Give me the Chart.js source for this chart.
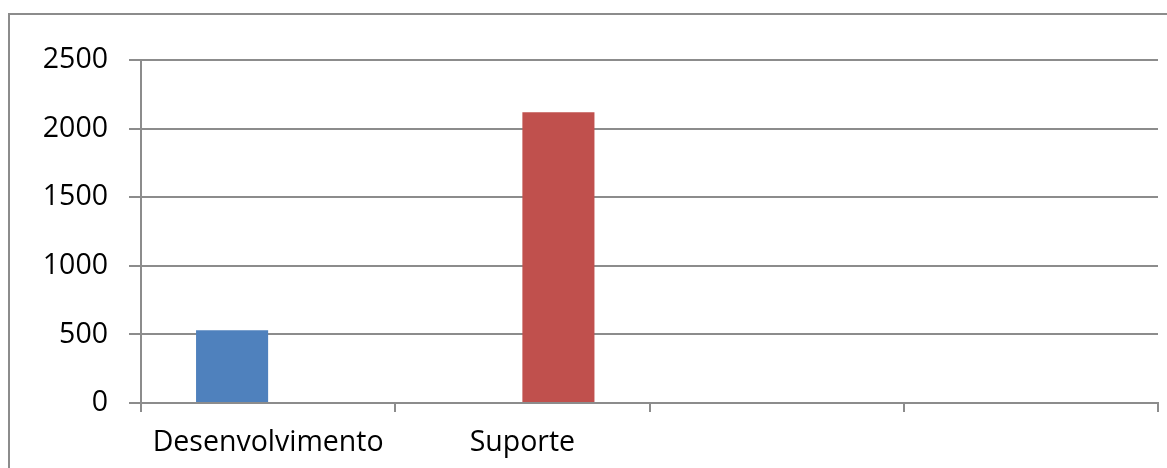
<!DOCTYPE html>
<html lang="pt">
<head>
  <meta charset="UTF-8" />
  <title>Desenvolvimento x Suporte</title>
  <script src="https://cdn.jsdelivr.net/npm/chart.js@4.4.0"></script>
  <style>
    html, body { margin: 0; padding: 0; background: #fff; }
    #wrap { width: 1167px; height: 468px; }
  </style>
</head>
<body>
  <div id="wrap"><canvas id="chart" width="1167" height="468"></canvas></div>

  <script>
    // categorias (as duas últimas ficam vazias, como no gráfico original)
    const categorias = ['Desenvolvimento', 'Suporte', '', ''];
    const serieDesenv = [530, null, null, null];
    const serieSuporte = [null, 2120, null, null];
    const yTicks = [0, 500, 1000, 1500, 2000, 2500];

    const cinza = '#8c8c8c';
    const fonte = { family: "'Open Sans', sans-serif", size: 28.5 };

    // moldura cinza em volta do gráfico
    const moldura = {
      id: 'moldura',
      beforeDraw(chart) {
        const c = chart.ctx;
        c.save();
        c.strokeStyle = cinza;
        c.lineWidth = 2;
        c.strokeRect(9, 14, 3000, 3000);
        c.restore();
      }
    };

    new Chart(document.getElementById('chart'), {
      type: 'bar',
      data: {
        labels: categorias,
        datasets: [
          { label: 'Desenvolvimento', data: serieDesenv, backgroundColor: '#4f81bd' },
          { label: 'Suporte', data: serieSuporte, backgroundColor: '#c0504d' }
        ]
      },
      options: {
        responsive: false,
        animation: false,
        categoryPercentage: 0.567,
        barPercentage: 1,
        layout: { padding: { top: 60, right: 9, left: 0, bottom: 0 } },
        plugins: {
          legend: { display: false },
          tooltip: { enabled: false }
        },
        scales: {
          x: {
            grid: { drawOnChartArea: false, color: cinza, lineWidth: 2, tickLength: 9, offset: true },
            border: { color: cinza, width: 2 },
            ticks: { color: '#000', font: fonte, padding: 14, maxRotation: 0, autoSkip: false },
            afterFit(s) { s.height = 65; }
          },
          y: {
            min: 0,
            max: 2500,
            afterBuildTicks(s) { s.ticks = yTicks.map(v => ({ value: v })); },
            grid: { color: cinza, lineWidth: 2, tickLength: 12 },
            border: { color: cinza, width: 2 },
            ticks: { color: '#000', font: fonte, padding: 21, callback: v => String(v) },
            afterFit(s) { s.width = 141; }
          }
        }
      },
      plugins: [moldura]
    });
  </script>
</body>
</html>
